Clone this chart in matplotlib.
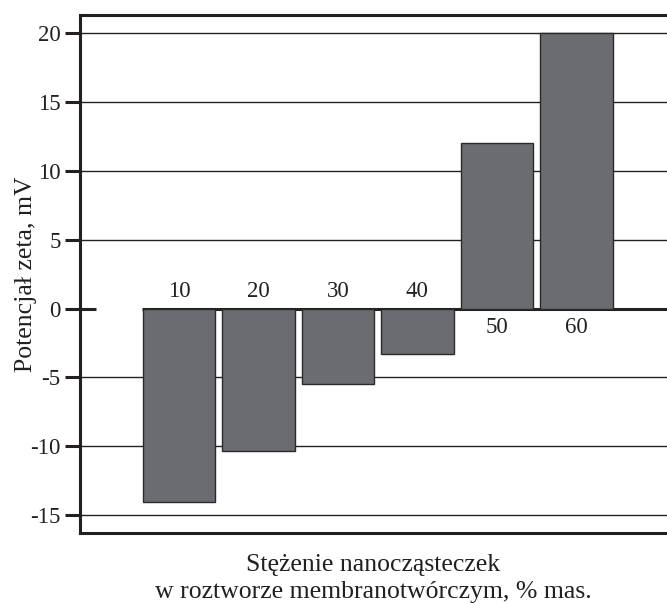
import numpy as np
import matplotlib.pyplot as plt

plt.rcParams['font.family'] = ['Liberation Serif', 'DejaVu Serif']

# stężenie nanocząstek (% mas.) i potencjał zeta (mV)
conc = ['10', '20', '30', '40', '50', '60']
zeta = [-14.05, -10.35, -5.45, -3.3, 12.0, 20.0]
yticks = [-15, -10, -5, 0, 5, 10, 15, 20]

fig = plt.figure(figsize=(6.67, 6.03), dpi=100)
ax = fig.add_axes([0.12, 0.116, 0.88, 0.859])

x = np.arange(len(conc))
ax.set_xlim(-1.245, 6.14)
ax.set_ylim(-16.3, 21.3)

for v in yticks:
    if v != 0:
        ax.axhline(v, color='#222222', lw=1.0, zorder=1)

# linia zera: krótki odcinek przy osi i dalej od pierwszego słupka
ax.hlines(0, -1.245, -1.05, color='#222222', lw=2.2, zorder=1)
ax.hlines(0, -0.46, 6.14, color='#222222', lw=2.2, zorder=1)

ax.bar(x, zeta, width=0.91, color='#6b6c70', edgecolor='#2a2a2a', lw=1.0, zorder=2)

for xi, lab, v in zip(x, conc, zeta):
    if v < 0:
        ax.text(xi, 0.5, lab, ha='center', va='bottom', fontsize=16.5, color='#231f20')
    else:
        ax.text(xi, -0.65, lab, ha='center', va='top', fontsize=16.5, color='#231f20')

ax.set_yticks(yticks)
ax.set_yticklabels([str(v) for v in yticks], fontsize=16.5, color='#231f20')
ax.set_xticks([])
ax.tick_params(axis='y', direction='out', length=11, width=2.2, color='#231f20', pad=3)

for s in ['top', 'left', 'bottom']:
    ax.spines[s].set_linewidth(2.2)
    ax.spines[s].set_color('#231f20')
ax.spines['right'].set_visible(False)

ax.set_ylabel('Potencjał zeta, mV', fontsize=18.5, color='#231f20', labelpad=-5)
fig.text(0.56, 0.063, 'Stężenie nanocząsteczek', ha='center', va='center',
         fontsize=18.5, color='#231f20')
fig.text(0.56, 0.019, 'w roztworze membranotwórczym, % mas.', ha='center', va='center',
         fontsize=18.5, color='#231f20')

fig.savefig('out.png', dpi=100)
